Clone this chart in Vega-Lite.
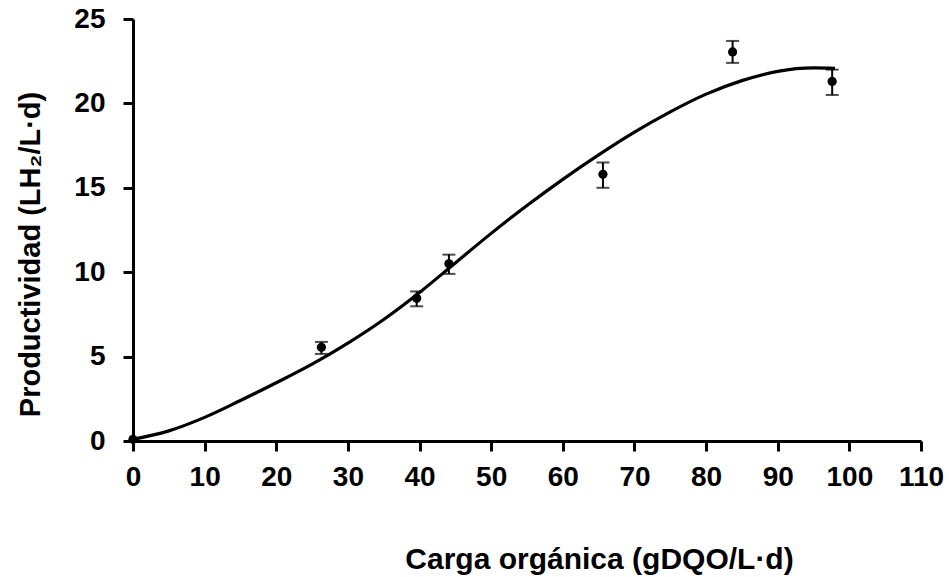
{
  "$schema": "https://vega.github.io/schema/vega-lite/v6.json",
  "autosize": "none",
  "width": 788,
  "height": 422,
  "padding": {"left": 133, "top": 19, "right": 28, "bottom": 136},
  "background": "white",
  "config": {
    "view": {"stroke": null},
    "font": "Liberation Sans",
    "axis": {
      "grid": false,
      "domainColor": "black",
      "domainWidth": 3,
      "tickColor": "black",
      "tickWidth": 3,
      "tickSize": 10,
      "labelFlush": false,
      "labelOverlap": false,
      "labelFont": "Liberation Sans",
      "labelFontWeight": "bold",
      "labelColor": "black",
      "titleFont": "Liberation Sans",
      "titleFontWeight": "bold",
      "titleColor": "black"
    }
  },
  "datasets": {
    "curve": [
      {"x": 0, "y": 0.1}, {"x": 5, "y": 0.6}, {"x": 10, "y": 1.4}, {"x": 15, "y": 2.4},
      {"x": 20, "y": 3.45}, {"x": 25, "y": 4.55}, {"x": 30, "y": 5.8}, {"x": 35, "y": 7.2},
      {"x": 40, "y": 8.8}, {"x": 45, "y": 10.55}, {"x": 50, "y": 12.3}, {"x": 55, "y": 13.95},
      {"x": 60, "y": 15.5}, {"x": 65, "y": 16.95}, {"x": 70, "y": 18.3}, {"x": 75, "y": 19.5},
      {"x": 80, "y": 20.55}, {"x": 85, "y": 21.35}, {"x": 90, "y": 21.9}, {"x": 95, "y": 22.1},
      {"x": 98, "y": 22.08}
    ],
    "obs": [
      {"x": 0, "y": 0.1, "lo": null, "hi": null},
      {"x": 26.3, "y": 5.55, "lo": 5.16, "hi": 5.87},
      {"x": 39.6, "y": 8.45, "lo": 7.98, "hi": 8.86},
      {"x": 44.1, "y": 10.5, "lo": 9.9, "hi": 11.04},
      {"x": 65.6, "y": 15.8, "lo": 15.0, "hi": 16.5},
      {"x": 83.7, "y": 23.05, "lo": 22.4, "hi": 23.7},
      {"x": 97.6, "y": 21.3, "lo": 20.5, "hi": 22.0}
    ]
  },
  "layer": [
    {
      "data": {"name": "curve"},
      "mark": {"type": "line", "color": "black", "strokeWidth": 3.2, "interpolate": "monotone"},
      "encoding": {
        "x": {
          "field": "x", "type": "quantitative",
          "title": "Carga orgánica (gDQO/L·d)",
          "scale": {"domain": [0, 110], "nice": false},
          "axis": {
            "values": [0, 10, 20, 30, 40, 50, 60, 70, 80, 90, 100, 110],
            "labelFontSize": 28,
            "labelPadding": 12,
            "titleFontSize": 30,
            "titleX": 466,
            "titleY": 127,
            "titleAlign": "center",
            "titleBaseline": "alphabetic"
          }
        },
        "y": {
          "field": "y", "type": "quantitative",
          "title": "Productividad (LH₂/L·d)",
          "scale": {"domain": [0, 25], "nice": false},
          "axis": {
            "values": [0, 5, 10, 15, 20, 25],
            "labelFontSize": 28,
            "labelPadding": 18,
            "titleFontSize": 29,
            "titleX": -94,
            "titleY": 235,
            "titleAlign": "center",
            "titleBaseline": "alphabetic",
            "titleAngle": 270
          }
        }
      }
    },
    {
      "data": {"name": "obs"},
      "transform": [{"filter": "isValid(datum.lo)"}],
      "mark": {
        "type": "errorbar",
        "color": "black",
        "ticks": {"size": 13, "thickness": 2, "color": "black"},
        "rule": {"strokeWidth": 2, "color": "black"}
      },
      "encoding": {
        "x": {"field": "x", "type": "quantitative", "title": "Carga orgánica (gDQO/L·d)"},
        "y": {"field": "lo", "type": "quantitative", "title": "Productividad (LH₂/L·d)"},
        "y2": {"field": "hi"}
      }
    },
    {
      "data": {"name": "obs"},
      "mark": {"type": "point", "filled": true, "color": "black", "opacity": 1, "size": 85},
      "encoding": {
        "x": {"field": "x", "type": "quantitative", "title": "Carga orgánica (gDQO/L·d)"},
        "y": {"field": "y", "type": "quantitative", "title": "Productividad (LH₂/L·d)"}
      }
    }
  ]
}
